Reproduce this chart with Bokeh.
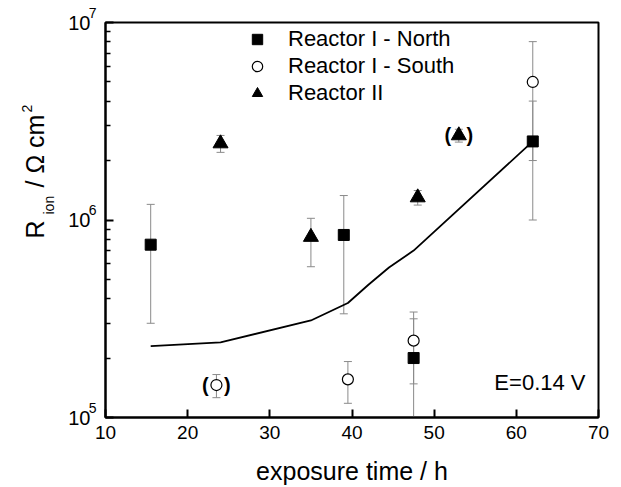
import numpy as np
from bokeh.plotting import figure
from bokeh.layouts import row
from bokeh.models import (Range1d, FixedTicker, Legend, LegendItem, Label, ColumnDataSource, LogAxis)
from bokeh.core.properties import value
from bokeh.embed import file_html
from bokeh.resources import INLINE

FONT = "Liberation Sans"

# ---- data ----
north_x = [15.5, 39.0, 47.5, 62.0]
north_y = [7.5e5, 8.4e5, 2.0e5, 2.5e6]
north_lo = [3.0e5, 3.35e5, 0.84e5, 1.0e6]
north_hi = [1.2e6, 1.33e6, 3.16e5, 4.0e6]

south_x = [23.5, 39.5, 47.5, 62.0]
south_y = [1.46e5, 1.56e5, 2.45e5, 5.0e6]
south_lo = [1.26e5, 1.18e5, 1.48e5, 2.0e6]
south_hi = [1.65e5, 1.92e5, 3.42e5, 8.0e6]

r2_x = [24.0, 35.0, 48.0, 53.0]
r2_y = [2.44e6, 8.2e5, 1.3e6, 2.68e6]
r2_lo = [2.2e6, 5.8e5, 1.19e6, 2.48e6]
r2_hi = [2.68e6, 1.02e6, 1.41e6, 2.88e6]

fit_x = [15.5, 24.0, 35.0, 39.5, 42.0, 44.5, 47.5, 62.0]
fit_y = [2.3e5, 2.4e5, 3.1e5, 3.8e5, 4.7e5, 5.75e5, 7.0e5, 2.5e6]

# points shown in parentheses (questionable values)
bracket_x = [south_x[0], r2_x[3]]
bracket_y = [south_y[0], r2_y[3]]

x_ticks = [10, 20, 30, 40, 50, 60, 70]
y_ticks = [1e5, 1e6, 1e7]
y_tick_base = ["10", "10", "10"]
y_tick_exp = ["5", "6", "7"]
y_minor = [k * 10.0 ** e for e in (5, 6) for k in range(2, 10)]

W, H = 620, 487
TW = 60                   # strip holding the y-axis title
TOP, BOTTOM = 22, 69      # frame borders (px)

p = figure(width=W - TW, height=H, x_range=Range1d(10, 70), y_range=Range1d(1e5, 1e7),
           y_axis_type="log", output_backend="svg", toolbar_location=None,
           min_border_left=105 - TW, min_border_right=22, min_border_top=TOP, min_border_bottom=BOTTOM)
p.title.visible = False
p.xgrid.visible = False
p.ygrid.visible = False
p.outline_line_color = "black"
p.outline_line_width = 2
p.background_fill_color = "white"
p.border_fill_color = "white"

for ax in (p.xaxis[0], p.yaxis[0]):
    ax.axis_line_width = 2
    ax.axis_line_color = "black"
    ax.major_tick_in = 8
    ax.major_tick_out = 0
    ax.major_tick_line_width = 2
    ax.minor_tick_in = 5
    ax.minor_tick_out = 0
    ax.minor_tick_line_width = 1.5
    ax.major_label_text_font = FONT
    ax.major_label_text_color = "black"

p.xaxis.ticker = FixedTicker(ticks=x_ticks)
p.xaxis.minor_tick_line_color = None
p.xaxis.major_label_text_font_size = "19px"
p.xaxis.major_label_standoff = 8
p.xaxis.axis_label = "exposure time / h"
p.xaxis.axis_label_text_font = FONT
p.xaxis.axis_label_text_font_size = "25px"
p.xaxis.axis_label_text_font_style = "normal"
p.xaxis.axis_label_text_color = "black"
p.xaxis.axis_label_text_line_height = 0.8
p.xaxis.axis_label_standoff = 15

# main y axis: ticks + exponents (raised half a line by a blank second line)
p.yaxis.ticker = FixedTicker(ticks=y_ticks, minor_ticks=y_minor)
p.yaxis.major_label_overrides = {t: s + "\n\u00a0" for t, s in zip(y_ticks, y_tick_exp)}
p.yaxis.major_label_text_font_size = "14px"
p.yaxis.major_label_standoff = 9

# outer axis carrying the "10" of each tick label
ax_base = LogAxis(ticker=FixedTicker(ticks=y_ticks, minor_ticks=[]),
                  major_label_overrides={t: s for t, s in zip(y_ticks, y_tick_base)},
                  axis_line_color=None, major_tick_line_color=None, minor_tick_line_color=None,
                  major_label_standoff=-11, major_label_text_font=FONT,
                  major_label_text_font_size="20px", major_label_text_color="black")
p.add_layout(ax_base, "left")

# ---- error bars ----
ERR = "#8a8a8a"
for xs, lo, hi in ((north_x, north_lo, north_hi), (south_x, south_lo, south_hi), (r2_x, r2_lo, r2_hi)):
    p.segment(x0=xs, y0=lo, x1=xs, y1=hi, line_color=ERR, line_width=1)
    p.scatter(xs, lo, marker="dash", size=8, line_color=ERR, line_width=1)
    p.scatter(xs, hi, marker="dash", size=8, line_color=ERR, line_width=1)

# ---- fit line ----
p.line(fit_x, fit_y, line_color="black", line_width=1.8)

# ---- markers ----
r_north = p.scatter(north_x, north_y, marker="square", size=11, fill_color="black", line_color="black")
r_south = p.scatter(south_x, south_y, marker="circle", size=11, fill_color="white", line_color="black", line_width=1.2)
r_r2 = p.scatter(r2_x, r2_y, marker="triangle", size=15, fill_color="black", line_color="black")

# parentheses around questionable points
bsrc = ColumnDataSource(dict(x=bracket_x, y=bracket_y))
p.text(x="x", y="y", text=value("("), source=bsrc, x_offset=-11, text_align="center",
       text_baseline="middle", text_font=value(FONT), text_font_size="20px", text_font_style="bold")
p.text(x="x", y="y", text=value(")"), source=bsrc, x_offset=11, text_align="center",
       text_baseline="middle", text_font=value(FONT), text_font_size="20px", text_font_style="bold")

legend = Legend(items=[LegendItem(label="Reactor I - North", renderers=[r_north]),
                       LegendItem(label="Reactor I - South", renderers=[r_south]),
                       LegendItem(label="Reactor II", renderers=[r_r2])],
                location=(137, 311), glyph_width=30, glyph_height=26, label_height=26,
                spacing=1, padding=0, margin=0, label_standoff=16,
                label_text_font=FONT, label_text_font_size="22px", label_text_color="black",
                border_line_color=None, background_fill_alpha=0)
p.add_layout(legend)

p.add_layout(Label(x=480, y=35, x_units="screen", y_units="screen", text="E=0.14 V",
                   text_align="right", text_baseline="middle", text_font=FONT,
                   text_font_size="22px", text_color="black"))

# ---- left strip: y-axis title built from pieces (subscript / superscript) ----
t = figure(width=TW, height=H, x_range=Range1d(0, TW), y_range=Range1d(0, H),
           x_axis_location=None, y_axis_location=None,
           output_backend="svg", toolbar_location=None, min_border=0)
t.grid.visible = False
t.outline_line_color = None
t.title.visible = False


def ylab(x, y_page, text, size):
    t.add_layout(Label(x=x, y=H - 1 - y_page, x_units="screen", y_units="screen", text=text,
                       angle=np.pi / 2, text_align="left", text_baseline="middle",
                       text_font=FONT, text_font_size=size, text_color="black"))


ylab(34.3, 307, "R", "25px")
ylab(48.5, 283, "ion", "14px")
ylab(34.3, 256, "/ \u03a9 cm", "25px")
ylab(26, 181, "2", "14px")

layout = row(t, p, spacing=0)
open("out.html", "w").write(file_html(layout, INLINE))
